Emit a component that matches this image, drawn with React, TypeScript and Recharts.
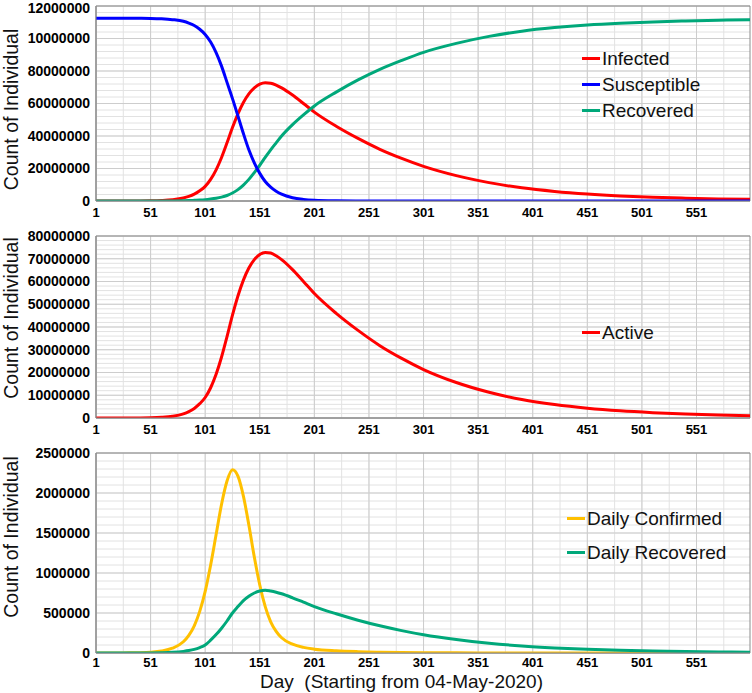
import React from 'react';
import { LineChart, Line, XAxis, YAxis, CartesianGrid, ReferenceArea, Legend } from 'recharts';

// ---- data (values in millions) ----
const days = [1, 11, 21, 31, 41, 51, 61, 71, 81, 86, 91, 96, 101, 106, 111, 116, 121, 126, 131, 136, 141, 146, 151, 156, 161, 166, 171, 181, 191, 201, 221, 241, 261, 281, 301, 331, 361, 391, 421, 451, 481, 511, 541, 571, 600];

const susceptibleM = [112.5, 112.5, 112.5, 112.5, 112.45, 112.35, 112.1, 111.6, 110.6, 109.5, 108, 105.7, 102.5, 97.8, 91.3, 83, 73, 63, 52.3, 41.5, 31.5, 23.5, 17, 12, 8.5, 6, 4.2, 2, 1, 0.5, 0.15, 0.05, 0.02, 0.01, 0, 0, 0, 0, 0, 0, 0, 0, 0, 0, 0];

const infectedM = [0, 0, 0.005, 0.01, 0.03, 0.1, 0.3, 0.75, 1.8, 2.8, 4.2, 6.3, 9, 13.3, 19.2, 26.8, 35.8, 45.2, 53.6, 60.6, 65.9, 69.6, 71.9, 72.8, 72.5, 71.3, 69.6, 65.2, 60, 54.7, 46, 38.5, 31.8, 26.2, 21.3, 15.6, 11.3, 8.1, 5.9, 4.3, 3.15, 2.35, 1.75, 1.3, 1];

const recoveredM = [0, 0, 0, 0, 0, 0.005, 0.02, 0.06, 0.15, 0.25, 0.4, 0.55, 0.8, 1.2, 1.7, 2.4, 3.4, 4.9, 7, 9.8, 13.3, 17.5, 22, 26.8, 31.5, 35.8, 40, 47, 53, 58.5, 67, 74.5, 81, 86.5, 91.5, 97, 101.3, 104.5, 106.7, 108.3, 109.4, 110.2, 110.8, 111.25, 111.6];

const dailyConfirmedM = [0, 0, 0.001, 0.002, 0.004, 0.01, 0.025, 0.06, 0.14, 0.22, 0.34, 0.52, 0.77, 1.1, 1.48, 1.86, 2.15, 2.29, 2.21, 1.96, 1.6, 1.2, 0.85, 0.58, 0.39, 0.27, 0.19, 0.11, 0.07, 0.048, 0.028, 0.017, 0.01, 0.006, 0.004, 0.002, 0.001, 0, 0, 0, 0, 0, 0, 0, 0];

const dailyRecoveredM = [0, 0, 0, 0, 0.0005, 0.001, 0.003, 0.008, 0.02, 0.03, 0.045, 0.068, 0.1, 0.16, 0.23, 0.31, 0.4, 0.5, 0.58, 0.655, 0.71, 0.75, 0.775, 0.785, 0.775, 0.76, 0.74, 0.69, 0.635, 0.58, 0.49, 0.41, 0.34, 0.28, 0.228, 0.168, 0.122, 0.088, 0.064, 0.046, 0.034, 0.025, 0.018, 0.013, 0.01];

const xTicks = [1, 51, 101, 151, 201, 251, 301, 351, 401, 451, 501, 551];
const xGridDays = [1, 26, 51, 76, 101, 126, 151, 176, 201, 226, 251, 276, 301, 326, 351, 376, 401, 426, 451, 476, 501, 526, 551, 576];

const topYTicks = [0, 20000000, 40000000, 60000000, 80000000, 100000000, 120000000];
const topYTickLabels = ['0', '20000000', '40000000', '60000000', '80000000', '10000000', '12000000'];
const midYTicks = [0, 10000000, 20000000, 30000000, 40000000, 50000000, 60000000, 70000000, 80000000];
const midYTickLabels = ['0', '10000000', '20000000', '30000000', '40000000', '50000000', '60000000', '70000000', '80000000'];
const botYTicks = [0, 500000, 1000000, 1500000, 2000000, 2500000];
const botYTickLabels = ['0', '500000', '1000000', '1500000', '2000000', '2500000'];

const yTitle = 'Count of Individual';
const xTitle = 'Day  (Starting from 04-May-2020)';

const M = 1000000;
const rows = days.map((d, i) => ({
  day: d,
  susceptible: susceptibleM[i] * M,
  infected: infectedM[i] * M,
  recovered: recoveredM[i] * M,
  active: infectedM[i] * M,
  dailyConfirmed: dailyConfirmedM[i] * M,
  dailyRecovered: dailyRecoveredM[i] * M,
}));

const minorValues = (max: number, step: number) => {
  const out: number[] = [];
  for (let v = 0; v <= max + 1; v += step) out.push(v);
  return out;
};

const FONT = '"Liberation Sans", Arial, sans-serif';
const RED = '#ff0000';
const BLUE = '#0000ff';
const TEAL = '#00a87a';
const GOLD = '#ffc000';

type Series = { key: string; name: string; color: string };

function LegendBox({ items, rowH }: { items: Series[]; rowH: number }) {
  return (
    <div style={{ fontFamily: FONT }}>
      {items.map((s) => (
        <div key={s.key} style={{ display: 'flex', alignItems: 'center', height: rowH }}>
          <span style={{ display: 'inline-block', width: 18, height: 3, background: s.color, marginRight: 2 }} />
          <span style={{ fontSize: 19, color: '#111', lineHeight: 1 }}>{s.name}</span>
        </div>
      ))}
    </div>
  );
}

type PanelProps = {
  top: number;
  height: number;
  xAxisHeight: number;
  xTickMargin: number;
  yMax: number;
  yTicks: number[];
  yLabels: string[];
  yMinorStep: number;
  topTickNudge?: number;
  series: Series[];
  legendItems?: Series[];
  legendLeft: number;
  legendTop: number;
  legendRowH: number;
  titleShift: number;
  showXTitle?: boolean;
};

const PAD = 8;
const MARGIN_TOP = 6 + PAD;

function Panel(p: PanelProps) {
  const h = p.height + PAD;
  const plotH = h - MARGIN_TOP - p.xAxisHeight;
  const cy = MARGIN_TOP + plotH / 2 + p.titleShift;
  const renderYTick = (t: any) => {
    const v = t.payload.value;
    const i = p.yTicks.indexOf(v);
    const nudge = v === p.yMax ? p.topTickNudge ?? 0 : 0;
    return (
      <text x={t.x} y={t.y + nudge} dy="0.355em" textAnchor="end" fill="#000" fontSize={14} fontWeight={700} fontFamily={FONT}>
        {i >= 0 ? p.yLabels[i] : String(v)}
      </text>
    );
  };
  return (
    <div style={{ position: 'absolute', left: 0, top: p.top - PAD, width: 752, height: h }}>
      <LineChart width={752} height={h} data={rows} margin={{ top: MARGIN_TOP, right: 2, bottom: 0, left: 0 }}>
        <CartesianGrid stroke="#e2e2e2" horizontalValues={minorValues(p.yMax, p.yMinorStep)} verticalValues={xGridDays} />
        <CartesianGrid stroke="#cdcdcd" horizontalValues={p.yTicks} verticalValues={xTicks} />
        <XAxis
          type="number"
          dataKey="day"
          domain={[1, 600]}
          ticks={xTicks}
          interval={0}
          allowDataOverflow
          height={p.xAxisHeight}
          tickLine={false}
          tickSize={0}
          tickMargin={p.xTickMargin}
          axisLine={{ stroke: '#8c8c8c' }}
          tick={{ fill: '#000', fontSize: 13, fontWeight: 700, fontFamily: FONT }}
          label={
            p.showXTitle
              ? {
                  content: () => (
                    <text x={260} y={MARGIN_TOP + plotH + 35} fill="#111" fontSize={19} fontFamily={FONT} style={{ whiteSpace: 'pre' }}>
                      {xTitle}
                    </text>
                  ),
                }
              : undefined
          }
        />
        <YAxis
          type="number"
          domain={[0, p.yMax]}
          ticks={p.yTicks}
          interval={0}
          allowDataOverflow
          width={96}
          tickLine={false}
          tickSize={0}
          tickMargin={6}
          axisLine={{ stroke: '#8c8c8c' }}
          tick={renderYTick}
          label={{
            content: () => (
              <text x={18} y={cy} transform={`rotate(-90 18 ${cy})`} textAnchor="middle" fill="#111" fontSize={19.5} fontFamily={FONT}>
                {yTitle}
              </text>
            ),
          }}
        />
        <ReferenceArea x1={1} x2={600} y1={0} y2={p.yMax} fill="none" stroke="#8c8c8c" strokeWidth={1} ifOverflow="visible" />
        {p.series.map((s) => (
          <Line key={s.key} type="monotone" dataKey={s.key} name={s.name} stroke={s.color} strokeWidth={3} dot={false} activeDot={false} isAnimationActive={false} />
        ))}
        <Legend
          layout="vertical"
          align="center"
          verticalAlign="middle"
          wrapperStyle={{ left: p.legendLeft, top: p.legendTop + PAD, width: 'auto', height: 'auto', margin: 0 }}
          content={() => <LegendBox items={p.legendItems ?? p.series} rowH={p.legendRowH} />}
        />
      </LineChart>
    </div>
  );
}

const topSeries: Series[] = [
  { key: 'infected', name: 'Infected', color: RED },
  { key: 'recovered', name: 'Recovered', color: TEAL },
  { key: 'susceptible', name: 'Susceptible', color: BLUE },
];
const topLegend: Series[] = [topSeries[0], topSeries[2], topSeries[1]];
const midSeries: Series[] = [{ key: 'active', name: 'Active', color: RED }];
const botSeries: Series[] = [
  { key: 'dailyConfirmed', name: 'Daily Confirmed', color: GOLD },
  { key: 'dailyRecovered', name: 'Daily Recovered', color: TEAL },
];

export default function App() {
  return (
    <div style={{ position: 'absolute', left: 0, top: 0, width: 752, height: 693, background: '#fff', fontFamily: FONT, overflow: 'hidden' }}>
      <Panel
        top={0}
        height={223}
        xAxisHeight={22}
        xTickMargin={7}
        yMax={120000000}
        yTicks={topYTicks}
        yLabels={topYTickLabels}
        yMinorStep={4000000}
        topTickNudge={2}
        series={topSeries}
        legendItems={topLegend}
        legendLeft={582}
        legendTop={45}
        legendRowH={26}
        titleShift={6}
      />
      <Panel
        top={230}
        height={210}
        xAxisHeight={22}
        xTickMargin={7}
        yMax={80000000}
        yTicks={midYTicks}
        yLabels={midYTickLabels}
        yMinorStep={2000000}
        series={midSeries}
        legendLeft={582}
        legendTop={89}
        legendRowH={26}
        titleShift={-9}
      />
      <Panel
        top={447}
        height={246}
        xAxisHeight={40}
        xTickMargin={5}
        yMax={2500000}
        yTicks={botYTicks}
        yLabels={botYTickLabels}
        yMinorStep={100000}
        series={botSeries}
        legendLeft={567}
        legendTop={54}
        legendRowH={34}
        titleShift={-16}
        showXTitle
      />
    </div>
  );
}
